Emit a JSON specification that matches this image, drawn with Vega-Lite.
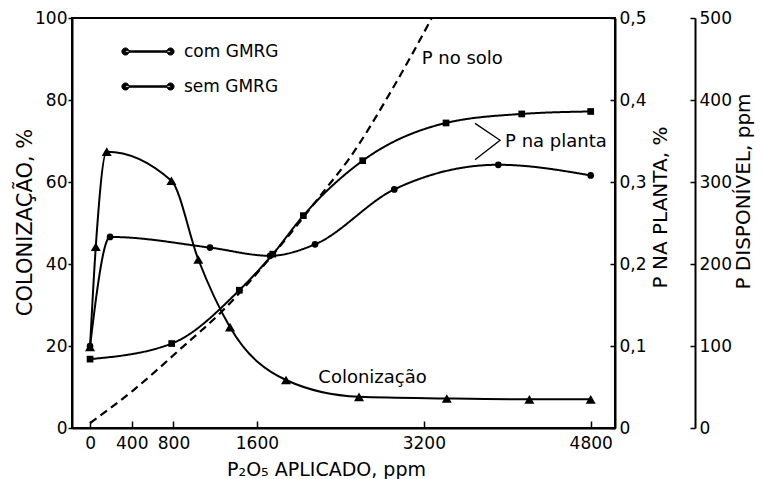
{
  "$schema": "https://vega.github.io/schema/vega-lite/v6.json",
  "width": 543,
  "height": 410,
  "autosize": "none",
  "padding": {"left": 72, "top": 18, "right": 148, "bottom": 51},
  "background": "white",
  "config": {
    "view": {"stroke": "black", "strokeWidth": 2},
    "font": "DejaVu Sans",
    "axis": {
      "domainColor": "black", "domainWidth": 2, "tickColor": "black", "tickWidth": 1.5,
      "labelColor": "black", "titleColor": "black", "labelFont": "DejaVu Sans", "titleFont": "DejaVu Sans",
      "labelFontSize": 17, "titleFontSize": 19, "titleFontWeight": "normal", "grid": false
    }
  },
  "encoding": {
    "x": {
      "field": "x", "type": "quantitative",
      "scale": {"domain": [-173, 5033], "nice": false, "zero": false},
      "axis": {
        "values": [0, 400, 800, 1600, 3200, 4800], "format": "d",
        "tickSize": -7, "labelPadding": 14,
        "title": "P₂O₅ APLICADO, ppm", "titleX": 254, "titleY": 41,
        "titleAlign": "center", "titleBaseline": "middle", "titleFontSize": 19
      }
    }
  },
  "layer": [
    {
      "data": {"values": [
        {"x": 0, "col": 19.8}, {"x": 55, "col": 44.2}, {"x": 160, "col": 67.4}, {"x": 780, "col": 60.3},
        {"x": 1038, "col": 41.1}, {"x": 1342, "col": 24.6}, {"x": 1879, "col": 11.7}, {"x": 2579, "col": 7.6},
        {"x": 3420, "col": 7.2}, {"x": 4212, "col": 7.0}, {"x": 4800, "col": 7.0}
      ]},
      "mark": {"type": "line", "interpolate": "monotone", "color": "black", "strokeWidth": 2,
        "point": {"shape": "triangle-up", "filled": true, "size": 100, "color": "black", "opacity": 1}},
      "encoding": {
        "y": {"field": "col", "type": "quantitative", "scale": {"domain": [0, 100], "nice": false},
          "axis": {"orient": "left", "values": [0, 20, 40, 60, 80, 100], "tickSize": 4, "labelPadding": 1,
            "title": "COLONIZAÇÃO, %", "titleFontSize": 21, "titleX": -47, "titleY": 204, "titleAngle": 270,
            "titleAlign": "center", "titleBaseline": "middle"}}
      }
    },
    {
      "data": {"values": [
        {"serie": "com GMRG", "x": 0, "p": 0.100}, {"serie": "com GMRG", "x": 192, "p": 0.233},
        {"serie": "com GMRG", "x": 1150, "p": 0.220}, {"serie": "com GMRG", "x": 1726, "p": 0.210},
        {"serie": "com GMRG", "x": 2157, "p": 0.224}, {"serie": "com GMRG", "x": 2917, "p": 0.291},
        {"serie": "com GMRG", "x": 3914, "p": 0.321}, {"serie": "com GMRG", "x": 4800, "p": 0.308},
        {"serie": "sem GMRG", "x": 0, "p": 0.084}, {"serie": "sem GMRG", "x": 783, "p": 0.103},
        {"serie": "sem GMRG", "x": 1431, "p": 0.168}, {"serie": "sem GMRG", "x": 1752, "p": 0.212},
        {"serie": "sem GMRG", "x": 2045, "p": 0.259}, {"serie": "sem GMRG", "x": 2614, "p": 0.326},
        {"serie": "sem GMRG", "x": 3413, "p": 0.372}, {"serie": "sem GMRG", "x": 4139, "p": 0.383},
        {"serie": "sem GMRG", "x": 4800, "p": 0.386}
      ]},
      "encoding": {
        "y": {"field": "p", "type": "quantitative", "scale": {"domain": [0, 0.5], "nice": false},
          "axis": {"orient": "right", "values": [0, 0.1, 0.2, 0.3, 0.4, 0.5],
            "labelExpr": "replace(format(datum.value, '.1~f'), '.', ',')",
            "tickSize": -5, "labelPadding": 9,
            "title": "P NA PLANTA, %", "titleFontSize": 20, "titleAngle": 270, "titleX": 45, "titleY": 189,
            "titleAlign": "center", "titleBaseline": "middle"}}
      },
      "layer": [
        {"mark": {"type": "line", "interpolate": "monotone", "color": "black", "strokeWidth": 2},
          "encoding": {
            "strokeDash": {"field": "serie", "type": "nominal",
              "scale": {"domain": ["com GMRG", "sem GMRG"], "range": [[1, 0], [1, 0]]},
              "legend": {"title": null, "orient": "none", "legendX": 89.5, "legendY": 24.5, "direction": "vertical",
                "padding": 0, "symbolSize": 289, "rowPadding": 18, "labelOffset": 4.5,
                "labelFontSize": 17, "labelFont": "DejaVu Sans", "labelColor": "black",
                "symbolType": "M-5.3,-0.1H0V0.1H-5.3ZM-5.72,0A0.42,0.42 0 1,0 -4.88,0A0.42,0.42 0 1,0 -5.72,0ZM-0.42,0A0.42,0.42 0 1,0 0.42,0A0.42,0.42 0 1,0 -0.42,0Z",
                "symbolFillColor": "black", "symbolStrokeColor": "black", "symbolStrokeWidth": 1, "symbolOpacity": 1}}}},
        {"transform": [{"filter": "datum.serie == 'com GMRG'"}],
          "mark": {"type": "point", "filled": true, "color": "black", "opacity": 1, "shape": "circle", "size": 45}},
        {"transform": [{"filter": "datum.serie == 'sem GMRG'"}],
          "mark": {"type": "point", "filled": true, "color": "black", "opacity": 1, "shape": "square", "size": 45}}
      ]
    },
    {
      "data": {"values": [
        {"x": 0, "ppm": 6}, {"x": 415, "ppm": 46}, {"x": 863, "ppm": 96}, {"x": 1263, "ppm": 142},
        {"x": 1757, "ppm": 212}, {"x": 2237, "ppm": 288}, {"x": 2493, "ppm": 330}, {"x": 2892, "ppm": 412},
        {"x": 3276, "ppm": 500}, {"x": 3400, "ppm": 530}
      ]},
      "mark": {"type": "line", "interpolate": "monotone", "color": "black", "strokeWidth": 2.2, "strokeDash": [8, 5], "clip": true},
      "encoding": {
        "y": {"field": "ppm", "type": "quantitative", "scale": {"domain": [0, 500], "nice": false},
          "axis": {"orient": "right", "offset": 80, "values": [0, 100, 200, 300, 400, 500],
            "tickSize": -5, "labelPadding": 9,
            "title": "P DISPONÍVEL, ppm", "titleFontSize": 20, "titleAngle": 270, "titleX": 48, "titleY": 173,
            "titleAlign": "center", "titleBaseline": "middle"}}
      }
    },
    {
      "data": {"values": [
        {"label": "P no solo", "x": 3180, "col": 90},
        {"label": "P na planta", "x": 3979, "col": 69.8},
        {"label": "Colonização", "x": 2189, "col": 12.2}
      ]},
      "mark": {"type": "text", "align": "left", "baseline": "middle", "fontSize": 18, "font": "DejaVu Sans", "color": "black"},
      "encoding": {
        "y": {"field": "col", "type": "quantitative", "scale": {"domain": [0, 100], "nice": false}, "axis": null},
        "text": {"field": "label"}
      }
    },
    {
      "data": {"values": [
        {"x": 3691, "col": 74.3}, {"x": 3931, "col": 70.2}, {"x": 3691, "col": 65.4}
      ]},
      "mark": {"type": "line", "color": "black", "strokeWidth": 1.3},
      "encoding": {
        "y": {"field": "col", "type": "quantitative", "scale": {"domain": [0, 100], "nice": false}, "axis": null},
        "order": {"value": null}
      }
    }
  ],
  "resolve": {"scale": {"y": "independent"}}
}
